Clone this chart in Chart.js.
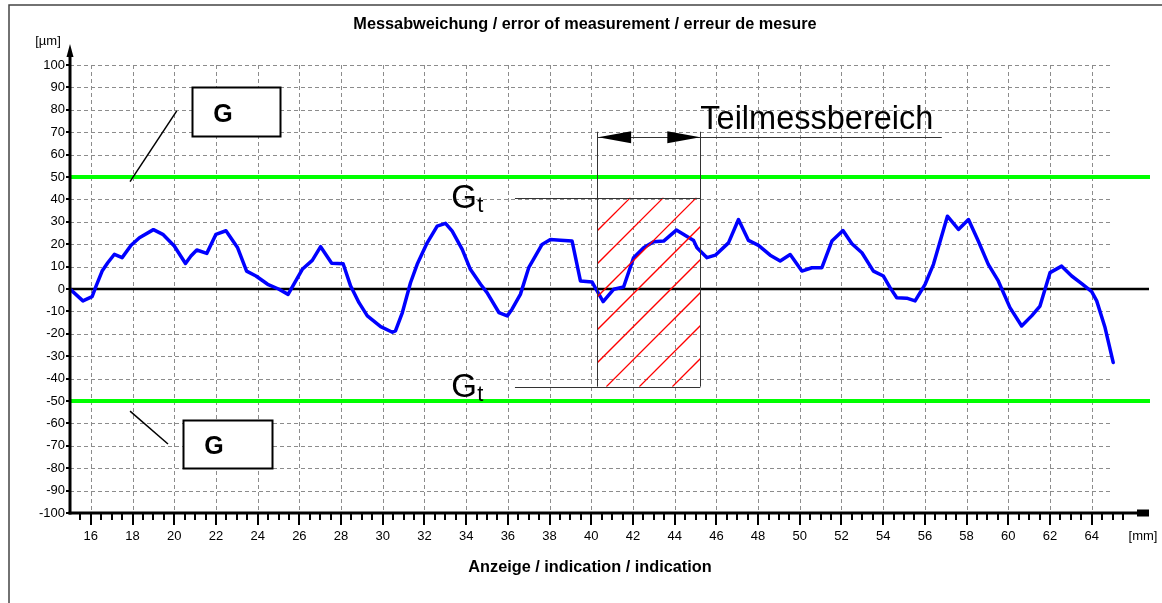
<!DOCTYPE html>
<html><head><meta charset="utf-8">
<script src="https://cdn.jsdelivr.net/npm/chart.js@4/dist/chart.umd.min.js"></script>
<style>html,body{margin:0;padding:0;background:#fff;}#wrap{position:relative;width:1162px;height:603px;}canvas{display:block;}</style>
</head><body><div id="wrap"><canvas id="c" width="1162" height="603"></canvas></div>
<script>
// ---- data ----
const positionsMm = [15.0,15.62,16.06,16.25,16.54,16.81,17.13,17.5,17.93,18.33,19.0,19.45,20.0,20.54,20.8,21.08,21.56,22.0,22.48,23.04,23.47,23.92,24.48,25.0,25.46,26.14,26.62,27.02,27.55,28.1,28.46,28.86,29.26,29.9,30.46,30.61,30.94,31.33,31.65,32.13,32.61,33.01,33.33,33.81,34.2,34.69,35.0,35.57,35.97,36.2,36.6,37.0,37.64,38.04,38.52,39.08,39.48,40.04,40.28,40.57,41.08,41.55,42.03,42.51,42.99,43.47,44.08,44.91,45.07,45.55,45.95,46.58,47.06,47.54,48.02,48.58,49.06,49.54,50.1,50.58,51.06,51.54,52.07,52.5,52.98,53.53,54.01,54.33,54.65,55.13,55.53,56.01,56.41,57.08,57.61,58.09,58.56,59.04,59.52,60.08,60.64,61.12,61.52,62.0,62.56,63.04,63.52,64.0,64.24,64.64,65.03];
const errorsUm = [0,-5.3,-3.4,1.3,8,11.7,15.5,14,19.5,22.9,26.5,24.4,19.2,11.4,14.7,17.4,15.9,24.4,26,18.4,8,5.8,2.1,0,-2.4,8.8,12.8,18.9,11.5,11.3,1.3,-6.1,-12,-16.8,-19.3,-18.7,-10.5,2.8,11,20.6,28.1,29.3,25.8,17.7,8.8,2.1,-1.6,-10.5,-12,-9,-2.4,9.5,19.9,22.1,21.8,21.4,3.6,3.1,-0.9,-5.6,-0.1,0.9,14,18.4,21.1,21.4,26.3,21.6,18.4,14,15.1,20.6,31,21.7,19.5,15.1,12.5,15.4,8,9.5,9.5,21.4,26.1,20.2,16.2,8,5.8,0.6,-3.9,-4.1,-5.3,2.1,11,32.5,26.6,31,21.4,11,3.6,-8.3,-16.5,-12,-7.6,7.3,10.2,5.8,2.4,-1.2,-5.3,-17.2,-32.8];
const xTickLabels = [16,18,20,22,24,26,28,30,32,34,36,38,40,42,44,46,48,50,52,54,56,58,60,62,64];
const yTickLabels = [-100,-90,-80,-70,-60,-50,-40,-30,-20,-10,0,10,20,30,40,50,60,70,80,90,100];
const limitsG = [50, -50];
const partialRangeMm = [40.28, 45.23];
const partialLimitsUm = [40.8, -43.6];

const titleText = 'Messabweichung / error of measurement / erreur de mesure';
const xTitleText = 'Anzeige / indication / indication';
const yUnitText = '[µm]';
const xUnitText = '[mm]';
const partialText = 'Teilmessbereich';
const gText = 'G';
const gtMain = 'G', gtSub = 't';

const FONT = "'Liberation Sans', Arial, sans-serif";
const points = positionsMm.map((x, i) => ({x: x, y: errorsUm[i]}));

const deco = {
  id: 'deco',
  beforeDatasetsDraw(chart) {
    const ctx = chart.ctx, X = chart.scales.x, Y = chart.scales.y;
    const px = v => X.getPixelForValue(v), py = v => Y.getPixelForValue(v);
    ctx.save();
    // dashed grid
    ctx.strokeStyle = '#8c8c8c'; ctx.lineWidth = 1; ctx.setLineDash([4, 3]);
    ctx.beginPath();
    xTickLabels.forEach(v => { const x = Math.round(px(v)) + 0.5; ctx.moveTo(x, py(100)); ctx.lineTo(x, py(-100)); });
    yTickLabels.forEach(v => { if (v === -100) return; const y = Math.round(py(v)) + 0.5; ctx.moveTo(X.left, y); ctx.lineTo(px(65), y); });
    ctx.stroke();
    ctx.setLineDash([]);
    // zero line
    ctx.strokeStyle = '#000'; ctx.lineWidth = 2.5;
    ctx.beginPath(); ctx.moveTo(X.left, py(0)); ctx.lineTo(X.right + 1, py(0)); ctx.stroke();
    // limit lines G
    ctx.strokeStyle = '#00ff00'; ctx.lineWidth = 4;
    limitsG.forEach(v => { ctx.beginPath(); ctx.moveTo(X.left, py(v)); ctx.lineTo(X.right + 2, py(v)); ctx.stroke(); });
    ctx.restore();
  },
  afterDatasetsDraw(chart) {
    const ctx = chart.ctx, X = chart.scales.x, Y = chart.scales.y;
    const px = v => X.getPixelForValue(v), py = v => Y.getPixelForValue(v);
    ctx.save();
    // hatched partial range
    const x0 = px(partialRangeMm[0]), x1 = px(partialRangeMm[1]);
    const yT = py(partialLimitsUm[0]), yB = py(partialLimitsUm[1]);
    ctx.save();
    ctx.beginPath(); ctx.rect(x0, yT, x1 - x0, yB - yT); ctx.clip();
    ctx.strokeStyle = '#ff0000'; ctx.lineWidth = 1.3;
    const c0 = Math.round(x0 + yT), step = 33;
    for (let c = c0 - 10 * step; c < x1 + yB + step; c += step) {
      ctx.beginPath(); ctx.moveTo(c - yB, yB); ctx.lineTo(c - yT, yT); ctx.stroke();
    }
    ctx.restore();
    // frame of partial range
    ctx.strokeStyle = '#333'; ctx.lineWidth = 1;
    const yArrow = py(68), yVTop = py(70.2);
    ctx.beginPath();
    ctx.moveTo(Math.round(x0) + 0.5, yVTop); ctx.lineTo(Math.round(x0) + 0.5, yB);
    ctx.moveTo(Math.round(x1) + 0.5, yVTop); ctx.lineTo(Math.round(x1) + 0.5, yB);
    ctx.moveTo(px(36.34), Math.round(yT) + 0.5); ctx.lineTo(x1, Math.round(yT) + 0.5);
    ctx.moveTo(px(36.34), Math.round(yB) + 0.5); ctx.lineTo(x1, Math.round(yB) + 0.5);
    ctx.moveTo(x0, Math.round(yArrow) + 0.5); ctx.lineTo(px(56.81), Math.round(yArrow) + 0.5);
    ctx.stroke();
    // arrow heads
    ctx.fillStyle = '#000';
    ctx.beginPath(); ctx.moveTo(x0 + 1, yArrow + 0.5); ctx.lineTo(x0 + 34, yArrow - 5.5); ctx.lineTo(x0 + 34, yArrow + 6.5); ctx.closePath(); ctx.fill();
    ctx.beginPath(); ctx.moveTo(x1, yArrow + 0.5); ctx.lineTo(x1 - 33, yArrow - 5.5); ctx.lineTo(x1 - 33, yArrow + 6.5); ctx.closePath(); ctx.fill();
    // Teilmessbereich label
    ctx.fillStyle = '#000'; ctx.textBaseline = 'alphabetic'; ctx.textAlign = 'left';
    ctx.font = '32.5px ' + FONT;
    ctx.fillText(partialText, x1 + 0, yArrow - 8);
    // Gt labels
    [yT, yB].forEach(yl => {
      ctx.font = '33px ' + FONT;
      ctx.fillText(gtMain, px(33.28), yl + 10.5);
      const w = ctx.measureText(gtMain).width;
      ctx.font = '22px ' + FONT;
      ctx.fillText(gtSub, px(33.28) + w + 0.5, yl + 14);
    });
    // G boxes and leader lines
    ctx.strokeStyle = '#000'; ctx.lineWidth = 1.5;
    const boxes = [
      {x: [20.85, 25.07], y: [90.2, 68.3], tx: 22.34, ty: 77.9, l: [[17.88, 47.9], [20.12, 79.5]]},
      {x: [20.42, 24.69], y: [-58.5, -79.9], tx: 21.91, ty: -70.1, l: [[17.88, -54.5], [19.7, -69.2]]}
    ];
    boxes.forEach(b => {
      const bx = Math.round(px(b.x[0])) + 0.5, by = Math.round(py(b.y[0])) + 0.5;
      const bw = Math.round(px(b.x[1]) - px(b.x[0])), bh = Math.round(py(b.y[1]) - py(b.y[0]));
      ctx.lineWidth = 2;
      ctx.fillStyle = '#fff'; ctx.fillRect(bx, by, bw, bh); ctx.strokeRect(bx, by, bw, bh);
      ctx.lineWidth = 1.5;
      ctx.beginPath(); ctx.moveTo(px(b.l[0][0]), py(b.l[0][1])); ctx.lineTo(px(b.l[1][0]), py(b.l[1][1])); ctx.stroke();
      ctx.fillStyle = '#000'; ctx.font = 'bold 25px ' + FONT; ctx.textAlign = 'center'; ctx.textBaseline = 'middle';
      ctx.fillText(gText, px(b.tx), py(b.ty) + 1);
    });
    // axes
    ctx.strokeStyle = '#000'; ctx.fillStyle = '#000';
    ctx.lineWidth = 3;
    const ax = X.left, ay = Y.bottom;
    ctx.beginPath(); ctx.moveTo(ax, ay + 1.5); ctx.lineTo(ax, 52); ctx.stroke();
    ctx.beginPath(); ctx.moveTo(ax - 1.5, ay); ctx.lineTo(X.right - 8, ay); ctx.stroke();
    ctx.beginPath(); ctx.moveTo(ax, 44); ctx.lineTo(ax - 3.5, 57); ctx.lineTo(ax + 3.5, 57); ctx.closePath(); ctx.fill();
    ctx.fillRect(X.right - 11, ay - 3.5, 12, 7);
    // x axis ticks (every 0.5 mm, longer at labels)
    ctx.lineWidth = 2;
    ctx.beginPath();
    for (let k = 31; k <= 131; k++) {
      const v = k / 2; const x = Math.round(px(v));
      const major = xTickLabels.indexOf(v) >= 0;
      ctx.moveTo(x, ay); ctx.lineTo(x, ay + (major ? 12 : 7));
    }
    yTickLabels.forEach(v => { const y = Math.round(py(v)); ctx.moveTo(ax - 4, y); ctx.lineTo(ax, y); });
    ctx.stroke();
    // texts
    ctx.textAlign = 'center'; ctx.textBaseline = 'middle';
    ctx.font = 'bold 16.3px ' + FONT;
    ctx.fillText(titleText, 585, 25);
    ctx.fillText(xTitleText, 590, 568);
    ctx.font = '13px ' + FONT;
    ctx.fillText(yUnitText, 48, 41);
    ctx.fillText(xUnitText, 1143, 536);
    // outer frame
    ctx.strokeStyle = '#444'; ctx.lineWidth = 1.5;
    ctx.beginPath(); ctx.moveTo(9, 603); ctx.lineTo(9, 5); ctx.lineTo(1162, 5); ctx.stroke();
    ctx.restore();
  }
};

new Chart(document.getElementById('c'), {
  type: 'scatter',
  data: { datasets: [{ data: points, showLine: true, borderColor: '#0000ff', backgroundColor: '#0000ff', borderWidth: 3.5, pointRadius: 0, fill: false, tension: 0, borderJoinStyle: 'round', borderCapStyle: 'round' }] },
  options: {
    responsive: false, animation: false, devicePixelRatio: 1,
    layout: { padding: { left: 0, right: 14, top: 65, bottom: 0 } },
    plugins: { legend: { display: false }, tooltip: { enabled: false }, title: { display: false } },
    scales: {
      x: {
        type: 'linear', min: 15, max: 66.7,
        afterBuildTicks: s => { s.ticks = xTickLabels.map(v => ({ value: v })); },
        afterFit: s => { s.height = 90; },
        grid: { display: false, drawTicks: false }, border: { display: false },
        ticks: { color: '#000', font: { family: FONT, size: 13 }, padding: 16, maxRotation: 0, autoSkip: false, callback: v => String(v) }
      },
      y: {
        type: 'linear', min: -100, max: 100,
        afterBuildTicks: s => { s.ticks = yTickLabels.map(v => ({ value: v })); },
        afterFit: s => { s.width = 70; },
        grid: { display: false, drawTicks: false }, border: { display: false },
        ticks: { color: '#000', font: { family: FONT, size: 13 }, padding: 5, autoSkip: false, callback: v => String(v) }
      }
    }
  },
  plugins: [deco]
});
</script>
</body></html>
